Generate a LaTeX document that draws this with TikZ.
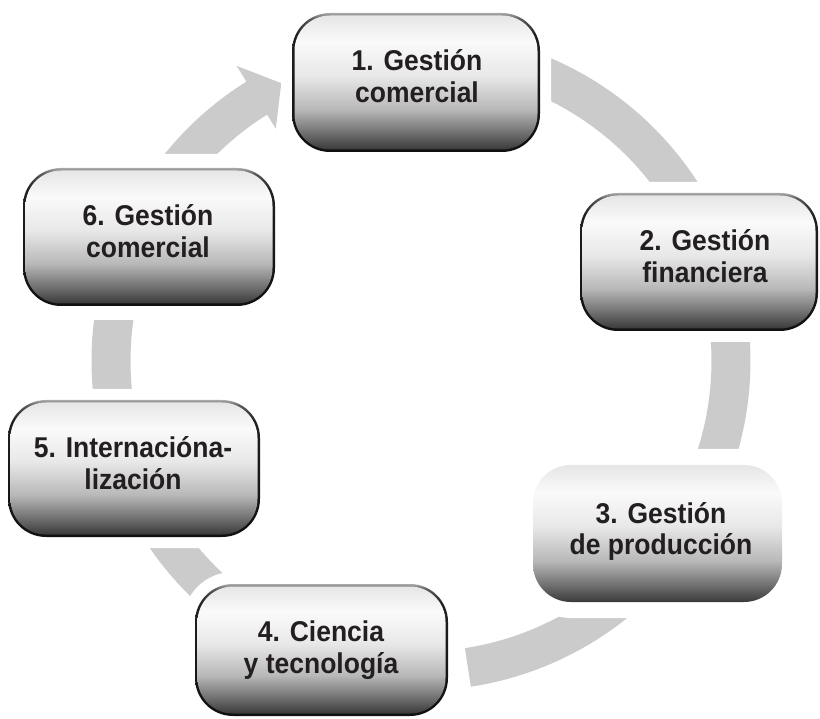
\documentclass[tikz,border=0pt]{standalone}
\usepackage{fontspec}
\usepackage{graphicx}
\setmainfont{Liberation Sans}
\definecolor{ringc}{HTML}{CBCBCB}
\definecolor{txt}{HTML}{231F20}
\definecolor{bA}{HTML}{3A3A3A}
\definecolor{bB}{HTML}{6E6E6E}
\definecolor{bC}{HTML}{B8B8B8}
\definecolor{bD}{HTML}{E8E8E8}
\definecolor{bE}{HTML}{FAFAFA}
\definecolor{bF}{HTML}{E6E6E6}
\definecolor{kA}{HTML}{111111}
\definecolor{kB}{HTML}{202020}
\definecolor{kC}{HTML}{5A5A5A}
\definecolor{kD}{HTML}{A8A8A8}
\pgfdeclareverticalshading{boxshade}{100bp}{color(0bp)=(bA); color(25bp)=(bA); color(31bp)=(bB); color(40bp)=(bC); color(52.5bp)=(bD); color(65bp)=(bE); color(75bp)=(bF); color(100bp)=(bF)}
\pgfdeclareverticalshading{bordershade}{100bp}{color(0bp)=(kA); color(25bp)=(kA); color(67.5bp)=(kB); color(73bp)=(kC); color(75bp)=(kD); color(100bp)=(kD)}
\newcommand\cbox[6]{%
  \pgfmathsetmacro\cbhr{38+#5}%
  \fill[white,rounded corners=\cbhr pt] (#1-#5,#2-#5) rectangle (#3+#5,#4+#5);
  \ifdim #6pt>0pt
    \shade[shading=bordershade,rounded corners=38pt] (#1,#2) rectangle (#3,#4);
  \fi
  \pgfmathsetmacro\cbir{38-#6}%
  \shade[shading=boxshade,rounded corners=\cbir pt] (#1+#6,#2+#6) rectangle (#3-#6,#4-#6);
}
\newcommand\twolines[2]{\scalebox{1}[1.08]{\begin{tabular}{@{}c@{}}\rule{0pt}{26pt}#1\\#2\end{tabular}}}
\tikzset{
  boxtext/.style={font=\fontsize{26.5}{29}\selectfont\bfseries, text=txt, inner sep=0pt},
  band/.style={fill=ringc}
}
\begin{document}
\begin{tikzpicture}[x=1pt,y=-1pt]
\useasboundingbox (0,0) rectangle (820,719);
% ring segments
\begin{scope}[shift={(421,361)}]
  \fill[band] plot[domain=-75:-25,samples=40] (\x:329.5) -- plot[domain=-25:-75,samples=40] (\x:290.5) -- cycle;
  \fill[band] plot[domain=-10:25,samples=40] (\x:329.5) -- plot[domain=25:-10,samples=40] (\x:290.5) -- cycle;
  \fill[band] plot[domain=30:81.3,samples=40] (\x:329.5) -- plot[domain=81.3:30,samples=40] (\x:290.5) -- cycle;
  \fill[band] plot[domain=110:170,samples=40] (\x:329.5) -- plot[domain=170:110,samples=40] (\x:290.5) -- cycle;
  \fill[band] plot[domain=165:200,samples=40] (\x:329.5) -- plot[domain=200:165,samples=40] (\x:290.5) -- cycle;
  \fill[band] plot[domain=195:238,samples=40] (\x:329.5) -- (238:348) -- (243.3:311) -- (238:274) -- plot[domain=238:195,samples=40] (\x:290.5) -- cycle;
\end{scope}
% boxes
\cbox{292}{13}{540}{152}{11}{2.5}
\cbox{580}{193}{818}{331}{11}{2.5}
\cbox{533}{465}{782}{602}{16}{0}
\cbox{195}{584}{448}{716}{12}{2.5}
\cbox{8}{400}{260}{537}{11}{2.5}
\cbox{23}{168}{275}{306}{14}{2.5}
% texts
\node[boxtext] (n1) at (417,77.3) {\twolines{1. Gestión}{comercial}};
\node[boxtext] (n2) at (705,257) {\twolines{2. Gestión}{financiera}};
\node[boxtext] (n3) at (661,529.6) {\twolines{3. Gestión}{de producción}};
\node[boxtext] (n4) at (321,648) {\twolines{4. Ciencia}{y tecnología}};
\node[boxtext] (n5) at (133,464) {\twolines{5. Internacióna-}{lización}};
\node[boxtext] (n6) at (148,232.3) {\twolines{6. Gestión}{comercial}};
\end{tikzpicture}
\end{document}
